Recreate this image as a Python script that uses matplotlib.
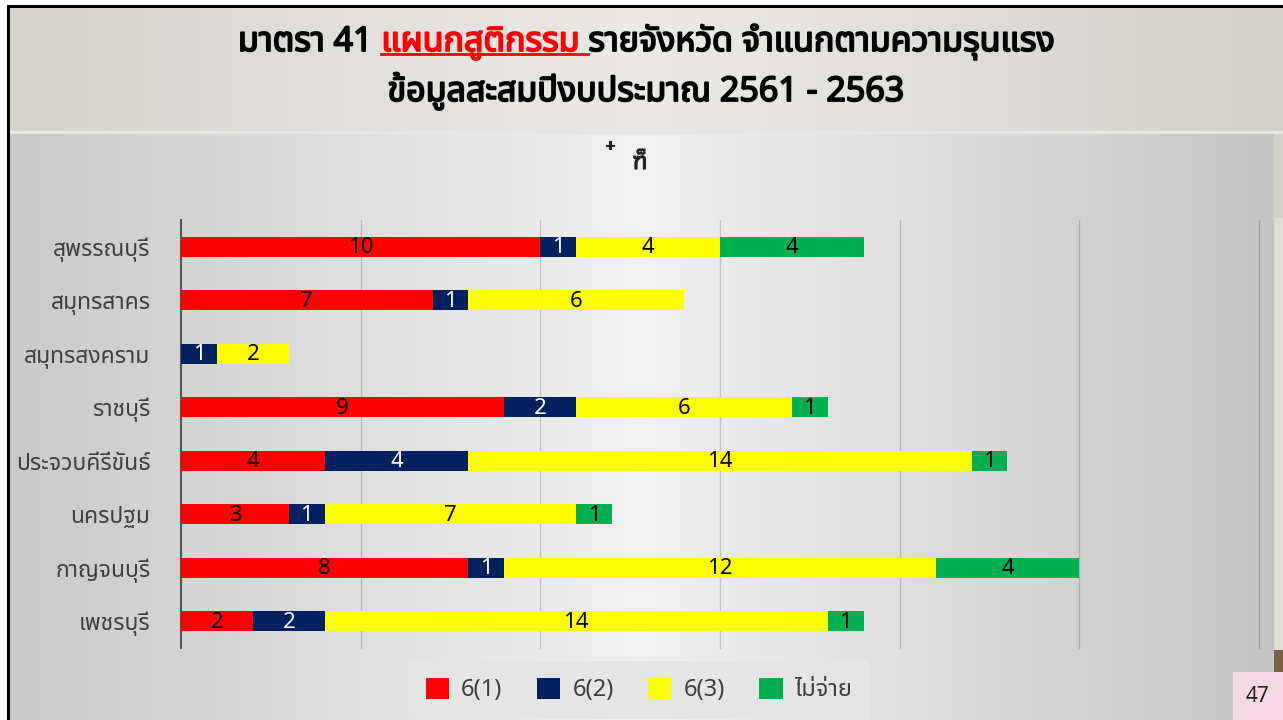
import numpy as np
import matplotlib
matplotlib.use("Agg")
import matplotlib.pyplot as plt
from matplotlib import font_manager as fm
from matplotlib.ft2font import FT2Font
from matplotlib.patches import Patch, Rectangle
from matplotlib.lines import Line2D
import matplotlib.patheffects as pe

# ---------------- data ----------------
provinces = ["สุพรรณบุรี", "สมุทรสาคร", "สมุทรสงคราม", "ราชบุรี",
             "ประจวบคีรีขันธ์", "นครปฐม", "กาญจนบุรี", "เพชรบุรี"]
series_names = ["6(1)", "6(2)", "6(3)", "ไม่จ่าย"]
s61 = [10, 7, 0, 9, 4, 3, 8, 2]
s62 = [1, 1, 1, 2, 4, 1, 1, 2]
s63 = [4, 6, 2, 6, 14, 7, 12, 14]
s_unpaid = [4, 0, 0, 1, 1, 1, 4, 1]
x_ticks = [0, 5, 10, 15, 20, 25, 30]
title_a = "มาตรา 41 "
title_b = "แผนกสูติกรรม "
title_c = "รายจังหวัด จำแนกตามความรุนแรง"
title_2 = "ข้อมูลสะสมปีงบประมาณ 2561 - 2563"
page_no = "47"

colors = ["#FF0000", "#002060", "#FFFF00", "#00B050"]
label_colors = ["black", "white", "black", "black"]


# ---------------- fonts ----------------
def find_thai():
    prefs = ['Tahoma', 'Leelawadee UI', 'Leelawadee', 'Noto Sans Thai', 'Noto Sans Thai UI',
             'Loma', 'Garuda', 'Sarabun', 'Waree', 'Umpush', 'Norasi', 'Kinnari', 'Laksaman']
    cands = {}
    for f in fm.fontManager.ttflist:
        try:
            cm = FT2Font(f.fname).get_charmap()
        except Exception:
            continue
        if 0x0E01 in cm and 0x0E2A in cm:
            cands.setdefault(f.name, []).append(f)
    for p in prefs:
        if p in cands:
            return p
    return next(iter(cands), None)


thai = find_thai()
fam = [thai, 'DejaVu Sans'] if thai else ['DejaVu Sans']
plt.rcParams['font.family'] = fam

W, H = 1283, 720
fig = plt.figure(figsize=(W / 100, H / 100), dpi=100)


# ---------------- background ----------------
def rgb(c):
    return np.array(matplotlib.colors.to_rgb(c))


def hgrad(left, mid, right, n):
    left, mid, right = rgb(left), rgb(mid), rgb(right)
    t = np.linspace(0, 1, n)[:, None]
    return np.where(t < 0.5, left + (mid - left) * (t / 0.5), mid + (right - mid) * ((t - 0.5) / 0.5))


bg = np.ones((H, W, 3))
bg[8:131, 8:] = hgrad('#d6d3ce', '#ebeae7', '#d3d0cb', W - 8)[None, :, :]
bg[131:134, 8:] = rgb('#e6e6e6')
bg[134:, 8:1274] = hgrad('#c9c9c9', '#f1f1f1', '#c5c5c5', 1274 - 8)[None, :, :]
bg[134:218, 1274:] = rgb('#d4d1cc')
bg[218:650, 1274:] = rgb('#e0ddd5')
bg[650:672, 1274:] = rgb('#7a6040')
bg[672:, 1274:] = rgb('#d0d0d0')
bg[5:8, 7:] = 0.0
bg[5:, 7:10] = 0.0

bax = fig.add_axes([0, 0, 1, 1], zorder=-10)
bax.imshow(bg, aspect='auto', extent=[0, W, H, 0], interpolation='bilinear')
bax.set_xlim(0, W)
bax.set_ylim(H, 0)
bax.axis('off')

# ---------------- main axes ----------------
ax_l, ax_r, ax_t, ax_b = 181, 1259, 220, 648
ax = fig.add_axes([ax_l / W, 1 - ax_b / H, (ax_r - ax_l) / W, (ax_b - ax_t) / H])
ax.set_facecolor('none')
ypos = np.arange(len(provinces))
all_series = [s61, s62, s63, s_unpaid]
left = np.zeros(len(provinces))
for vals, c, lc in zip(all_series, colors, label_colors):
    vals = np.array(vals, dtype=float)
    bars = ax.barh(ypos, vals, left=left, height=0.38, color=c, zorder=3)
    for b, v in zip(bars, vals):
        if v > 0:
            ax.text(b.get_x() + b.get_width() / 2, b.get_y() + b.get_height() / 2 + 0.02,
                    f"{int(v)}", ha='center', va='center', color=lc, fontsize=16, zorder=4)
    left += vals

ax.set_xlim(x_ticks[0], x_ticks[-1])
ax.set_ylim(len(provinces) - 0.5, -0.5)
ax.set_xticks(x_ticks)
ax.set_xticklabels([])
ax.tick_params(axis='x', length=0)
for xv in x_ticks[1:]:
    ax.axvline(xv, color='black', alpha=0.17, linewidth=1, zorder=0, clip_on=False)
ax.set_yticks(ypos)
ax.set_yticklabels(provinces, fontsize=16.5, color='#404040')
ax.tick_params(axis='y', length=0, pad=22)
for s in ['top', 'right', 'bottom']:
    ax.spines[s].set_visible(False)
ax.spines['left'].set_color('#555555')
ax.spines['left'].set_linewidth(1.5)

# ---------------- chart title (garbled glyphs) ----------------
bold_dark = [pe.withStroke(linewidth=0.8, foreground='#222222')]
fig.text(610 / W, 1 - 147 / H, "+", ha='center', va='center', fontsize=11, color='#222222',
         path_effects=bold_dark)
fig.text(640 / W, 1 - 163 / H, "ฑ็", ha='center', va='center', fontsize=17, color='#222222',
         path_effects=bold_dark)

# ---------------- legend ----------------
handles = [Patch(facecolor=c, edgecolor='none') for c in colors]
leg = fig.legend(handles, series_names, loc='center', bbox_to_anchor=(639 / W, 1 - 690 / H),
                 ncol=4, frameon=True, fontsize=17, handlelength=1.0, handleheight=1.0,
                 handletextpad=0.5, columnspacing=1.45, borderpad=0.7, fancybox=False)
leg.get_frame().set_facecolor('#e5e5e5')
leg.get_frame().set_edgecolor('none')
leg.get_frame().set_alpha(1)
for t in leg.get_texts():
    t.set_color('#404040')

# ---------------- page title ----------------
TS = 24.5
bold_k = [pe.withStroke(linewidth=1.3, foreground='black')]
bold_r = [pe.withStroke(linewidth=1.3, foreground='#FF0000')]
fig.canvas.draw()
r = fig.canvas.get_renderer()
ta = fig.text(0, 1 - 51 / H, title_a, fontsize=TS, color='black', va='baseline', path_effects=bold_k)
tb = fig.text(0, 1 - 51 / H, title_b, fontsize=TS, color='#FF0000', va='baseline', path_effects=bold_r)
tc = fig.text(0, 1 - 51 / H, title_c, fontsize=TS, color='black', va='baseline', path_effects=bold_k)
wa = ta.get_window_extent(r).width
wb = tb.get_window_extent(r).width
wc = tc.get_window_extent(r).width
total = wa + wb + wc
x0 = 646 - total / 2
ta.set_x(x0 / W)
tb.set_x((x0 + wa) / W)
tc.set_x((x0 + wa + wb) / W)
fig.add_artist(Line2D([(x0 + wa) / W, (x0 + wa + wb) / W], [1 - 54 / H, 1 - 54 / H],
                      color='#FF0000', linewidth=2, transform=fig.transFigure))
fig.text(646 / W, 1 - 101 / H, title_2, fontsize=TS, color='black',
         ha='center', va='baseline', path_effects=bold_k)

# ---------------- page number ----------------
fig.patches.append(Rectangle((1233 / W, 0), 50 / W, 48 / H, transform=fig.transFigure,
                             facecolor='#f9d8e6', edgecolor='none', zorder=5))
fig.text(1258 / W, 1 - 697 / H, page_no, ha='center', va='center', fontsize=15, color='#222222', zorder=6)

fig.savefig("out.png", dpi=100)
